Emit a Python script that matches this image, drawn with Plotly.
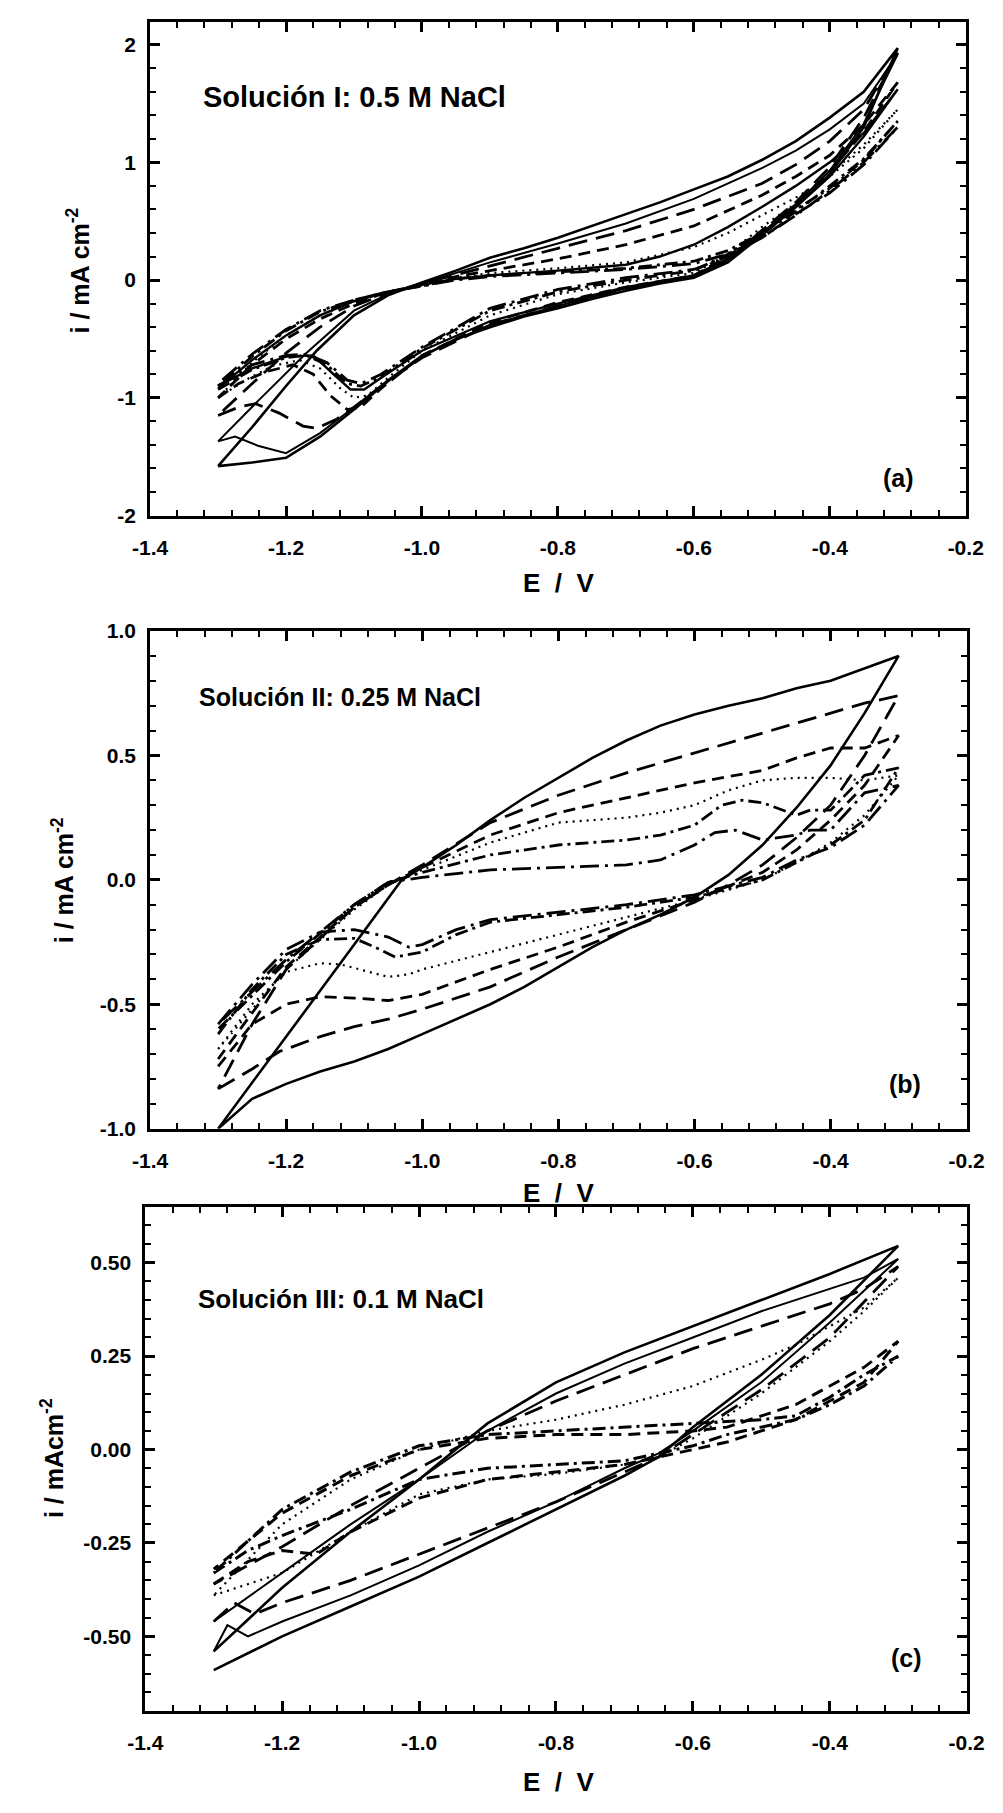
import plotly.graph_objects as go

# ---------------- data: panel (a) 0.5 M NaCl ----------------
a1_E = [-1.3,-1.25,-1.2,-1.15,-1.1,-1.05,-1.0,-0.95,-0.9,-0.85,-0.8,-0.75,-0.7,-0.65,-0.6,-0.55,-0.5,-0.45,-0.4,-0.35,-0.3,
        -0.35,-0.4,-0.45,-0.5,-0.55,-0.6,-0.65,-0.7,-0.75,-0.8,-0.85,-0.9,-0.95,-1.0,-1.05,-1.1,-1.155,-1.2,-1.25,-1.3]
a1_i = [-1.58,-1.55,-1.51,-1.33,-1.1,-0.86,-0.65,-0.5,-0.4,-0.31,-0.24,-0.16,-0.09,-0.03,0.02,0.15,0.38,0.62,0.9,1.3,1.97,
        1.6,1.38,1.18,1.02,0.88,0.77,0.66,0.56,0.46,0.36,0.27,0.19,0.08,-0.02,-0.13,-0.3,-0.6,-0.9,-1.25,-1.58]
a2_E = [-1.3,-1.275,-1.24,-1.2,-1.15,-1.1,-1.05,-1.0,-0.9,-0.8,-0.7,-0.65,-0.6,-0.55,-0.5,-0.45,-0.4,-0.35,-0.3,
        -0.35,-0.4,-0.45,-0.5,-0.6,-0.7,-0.8,-0.9,-0.95,-1.0,-1.05,-1.1,-1.17,-1.24,-1.3]
a2_i = [-1.37,-1.33,-1.41,-1.47,-1.3,-1.08,-0.85,-0.64,-0.38,-0.22,-0.07,-0.02,0.03,0.16,0.4,0.64,0.93,1.33,1.92,
        1.5,1.28,1.1,0.95,0.69,0.48,0.31,0.15,0.06,-0.03,-0.12,-0.26,-0.62,-1.02,-1.37]
a3_E = [-1.3,-1.25,-1.2,-1.16,-1.13,-1.105,-1.085,-1.06,-1.0,-0.9,-0.8,-0.7,-0.6,-0.55,-0.5,-0.45,-0.4,-0.35,-0.3,
        -0.35,-0.4,-0.45,-0.5,-0.55,-0.6,-0.65,-0.7,-0.8,-0.9,-0.95,-1.0,-1.05,-1.1,-1.15,-1.2,-1.25,-1.3]
a3_i = [-0.9,-0.75,-0.65,-0.64,-0.8,-0.93,-0.93,-0.83,-0.6,-0.35,-0.2,-0.06,0.04,0.18,0.4,0.62,0.88,1.22,1.62,
        1.25,1.0,0.8,0.62,0.45,0.3,0.2,0.13,0.08,0.04,0.01,-0.04,-0.1,-0.18,-0.3,-0.47,-0.68,-0.92]
a4_E = [-1.3,-1.27,-1.245,-1.21,-1.175,-1.155,-1.125,-1.1,-1.05,-1.0,-0.9,-0.8,-0.7,-0.6,-0.55,-0.5,-0.45,-0.4,-0.35,-0.3,
        -0.35,-0.4,-0.45,-0.5,-0.6,-0.7,-0.8,-0.9,-0.95,-1.0,-1.05,-1.1,-1.15,-1.2,-1.25,-1.3]
a4_i = [-1.15,-1.08,-1.05,-1.13,-1.24,-1.26,-1.18,-1.08,-0.86,-0.66,-0.38,-0.22,-0.07,0.03,0.17,0.42,0.66,0.96,1.38,1.93,
        1.45,1.18,0.98,0.82,0.6,0.42,0.27,0.12,0.05,-0.03,-0.11,-0.22,-0.4,-0.62,-0.88,-1.15]
a5_E = [-1.3,-1.27,-1.23,-1.19,-1.16,-1.135,-1.11,-1.09,-1.06,-1.0,-0.9,-0.8,-0.7,-0.6,-0.55,-0.5,-0.45,-0.4,-0.35,-0.3,
        -0.35,-0.4,-0.45,-0.5,-0.6,-0.7,-0.8,-0.9,-0.95,-1.0,-1.05,-1.1,-1.15,-1.2,-1.25,-1.3]
a5_i = [-1.0,-0.88,-0.78,-0.72,-0.8,-0.98,-1.1,-1.08,-0.92,-0.64,-0.36,-0.19,-0.06,0.04,0.2,0.42,0.64,0.92,1.26,1.68,
        1.32,1.06,0.88,0.72,0.46,0.3,0.18,0.08,0.03,-0.04,-0.1,-0.2,-0.33,-0.5,-0.72,-1.0]
a6_E = [-1.3,-1.26,-1.22,-1.18,-1.15,-1.12,-1.1,-1.08,-1.05,-1.0,-0.9,-0.8,-0.7,-0.6,-0.55,-0.5,-0.45,-0.4,-0.35,-0.3,
        -0.35,-0.4,-0.45,-0.5,-0.55,-0.6,-0.7,-0.8,-0.9,-0.95,-1.0,-1.05,-1.1,-1.15,-1.2,-1.25,-1.3]
a6_i = [-1.0,-0.85,-0.73,-0.68,-0.75,-0.92,-1.0,-0.98,-0.83,-0.6,-0.3,-0.12,-0.02,0.06,0.22,0.45,0.65,0.9,1.15,1.45,
        1.12,0.88,0.7,0.55,0.4,0.28,0.15,0.1,0.06,0.02,-0.05,-0.1,-0.18,-0.3,-0.47,-0.7,-1.0]
a7_E = [-1.3,-1.25,-1.2,-1.17,-1.14,-1.11,-1.09,-1.06,-1.0,-0.9,-0.8,-0.7,-0.6,-0.55,-0.5,-0.45,-0.4,-0.35,-0.3,
        -0.35,-0.4,-0.45,-0.5,-0.55,-0.6,-0.7,-0.8,-0.9,-0.95,-1.0,-1.05,-1.1,-1.15,-1.2,-1.25,-1.3]
a7_i = [-0.93,-0.76,-0.66,-0.64,-0.72,-0.88,-0.9,-0.82,-0.58,-0.26,-0.1,0.0,0.08,0.22,0.4,0.58,0.8,1.03,1.35,
        1.02,0.78,0.6,0.4,0.25,0.16,0.1,0.07,0.04,0.01,-0.05,-0.1,-0.17,-0.27,-0.43,-0.65,-0.9]
a8_E = [-1.3,-1.25,-1.2,-1.17,-1.14,-1.11,-1.09,-1.06,-1.0,-0.9,-0.8,-0.7,-0.6,-0.55,-0.5,-0.45,-0.4,-0.35,-0.3,
        -0.35,-0.4,-0.45,-0.5,-0.55,-0.6,-0.7,-0.8,-0.9,-0.95,-1.0,-1.05,-1.1,-1.15,-1.2,-1.25,-1.3]
a8_i = [-0.9,-0.72,-0.64,-0.63,-0.7,-0.85,-0.88,-0.8,-0.57,-0.24,-0.08,0.02,0.09,0.2,0.36,0.55,0.76,1.0,1.3,
        0.98,0.74,0.56,0.36,0.22,0.14,0.09,0.06,0.03,0.0,-0.05,-0.1,-0.17,-0.26,-0.42,-0.63,-0.88]

# ---------------- data: panel (b) 0.25 M NaCl ----------------
b1_E = [-1.3,-1.25,-1.2,-1.15,-1.1,-1.05,-1.0,-0.95,-0.9,-0.85,-0.8,-0.75,-0.7,-0.65,-0.6,-0.55,-0.5,-0.45,-0.4,-0.35,-0.3,
        -0.35,-0.4,-0.45,-0.5,-0.55,-0.6,-0.65,-0.7,-0.75,-0.8,-0.85,-0.9,-0.95,-1.0,-1.03,-1.1,-1.2,-1.3]
b1_i = [-1.0,-0.88,-0.82,-0.77,-0.73,-0.68,-0.62,-0.56,-0.5,-0.43,-0.35,-0.27,-0.2,-0.14,-0.07,0.02,0.14,0.29,0.46,0.67,0.9,
        0.85,0.8,0.77,0.73,0.7,0.665,0.62,0.56,0.49,0.41,0.33,0.24,0.14,0.05,0.0,-0.26,-0.63,-1.0]
b2_E = [-1.3,-1.25,-1.21,-1.15,-1.1,-1.05,-1.0,-0.9,-0.8,-0.7,-0.6,-0.55,-0.5,-0.45,-0.4,-0.35,-0.3,
        -0.35,-0.4,-0.5,-0.6,-0.7,-0.8,-0.9,-1.0,-1.05,-1.1,-1.2,-1.25,-1.3]
b2_i = [-0.84,-0.76,-0.69,-0.63,-0.59,-0.56,-0.52,-0.43,-0.31,-0.2,-0.09,-0.02,0.06,0.17,0.3,0.5,0.74,
        0.71,0.67,0.59,0.51,0.43,0.34,0.23,0.06,-0.02,-0.11,-0.36,-0.58,-0.84]
b3_E = [-1.3,-1.25,-1.2,-1.15,-1.1,-1.05,-1.0,-0.95,-0.9,-0.8,-0.7,-0.6,-0.5,-0.45,-0.4,-0.35,-0.3,
        -0.35,-0.4,-0.45,-0.5,-0.6,-0.7,-0.8,-0.9,-1.0,-1.05,-1.1,-1.2,-1.3]
b3_i = [-0.75,-0.58,-0.5,-0.47,-0.475,-0.485,-0.46,-0.41,-0.36,-0.27,-0.17,-0.08,0.03,0.12,0.24,0.38,0.58,
        0.53,0.53,0.49,0.44,0.39,0.33,0.27,0.18,0.05,-0.02,-0.11,-0.35,-0.72]
b4_E = [-1.3,-1.25,-1.2,-1.15,-1.12,-1.08,-1.05,-1.02,-1.0,-0.9,-0.8,-0.7,-0.6,-0.5,-0.45,-0.4,-0.35,-0.3,
        -0.35,-0.4,-0.45,-0.5,-0.55,-0.6,-0.65,-0.7,-0.8,-0.9,-1.0,-1.05,-1.1,-1.2,-1.3]
b4_i = [-0.68,-0.5,-0.37,-0.335,-0.34,-0.37,-0.39,-0.38,-0.36,-0.29,-0.22,-0.15,-0.08,0.0,0.07,0.15,0.26,0.42,
        0.4,0.41,0.41,0.4,0.36,0.3,0.27,0.25,0.23,0.15,0.04,-0.02,-0.12,-0.36,-0.68]
b5_E = [-1.3,-1.25,-1.2,-1.15,-1.1,-1.07,-1.04,-1.0,-0.95,-0.9,-0.8,-0.7,-0.6,-0.5,-0.45,-0.4,-0.35,-0.3,
        -0.35,-0.4,-0.43,-0.45,-0.5,-0.53,-0.56,-0.6,-0.65,-0.7,-0.8,-0.9,-1.0,-1.05,-1.1,-1.2,-1.3]
b5_i = [-0.62,-0.44,-0.3,-0.24,-0.235,-0.27,-0.31,-0.29,-0.22,-0.17,-0.14,-0.11,-0.07,0.0,0.07,0.14,0.24,0.45,
        0.42,0.28,0.28,0.26,0.31,0.32,0.3,0.22,0.18,0.16,0.14,0.1,0.03,-0.01,-0.1,-0.33,-0.6]
b6_E = [-1.3,-1.25,-1.2,-1.15,-1.1,-1.05,-1.02,-1.0,-0.95,-0.9,-0.8,-0.7,-0.6,-0.5,-0.45,-0.4,-0.35,-0.3,
        -0.35,-0.4,-0.43,-0.45,-0.5,-0.54,-0.57,-0.6,-0.65,-0.7,-0.8,-0.9,-1.0,-1.05,-1.1,-1.2,-1.3]
b6_i = [-0.58,-0.42,-0.28,-0.21,-0.2,-0.23,-0.27,-0.26,-0.2,-0.16,-0.13,-0.1,-0.06,0.01,0.08,0.13,0.22,0.38,
        0.35,0.2,0.2,0.18,0.16,0.2,0.19,0.14,0.08,0.06,0.05,0.04,0.01,-0.01,-0.1,-0.32,-0.58]

# ---------------- data: panel (c) 0.1 M NaCl ----------------
c1_E = [-1.3,-1.2,-1.1,-1.0,-0.9,-0.8,-0.7,-0.65,-0.6,-0.5,-0.4,-0.3,
        -0.4,-0.5,-0.6,-0.7,-0.8,-0.9,-1.0,-1.1,-1.2,-1.3]
c1_i = [-0.59,-0.5,-0.42,-0.34,-0.25,-0.16,-0.07,-0.02,0.06,0.2,0.36,0.545,
        0.47,0.4,0.33,0.26,0.18,0.07,-0.08,-0.22,-0.37,-0.54]
c2_E = [-1.3,-1.28,-1.25,-1.2,-1.1,-1.0,-0.9,-0.8,-0.7,-0.65,-0.6,-0.5,-0.4,-0.3,
        -0.35,-0.4,-0.5,-0.6,-0.7,-0.8,-0.9,-1.0,-1.1,-1.2,-1.3]
c2_i = [-0.54,-0.47,-0.5,-0.46,-0.39,-0.31,-0.22,-0.14,-0.05,-0.01,0.05,0.18,0.34,0.51,
        0.46,0.43,0.37,0.3,0.23,0.15,0.05,-0.08,-0.2,-0.33,-0.46]
c3_E = [-1.3,-1.27,-1.24,-1.2,-1.1,-1.0,-0.9,-0.8,-0.7,-0.65,-0.6,-0.5,-0.4,-0.3,
        -0.35,-0.4,-0.5,-0.6,-0.7,-0.8,-0.9,-1.0,-1.1,-1.2,-1.3]
c3_i = [-0.46,-0.41,-0.44,-0.41,-0.35,-0.28,-0.21,-0.14,-0.06,-0.02,0.04,0.16,0.3,0.49,
        0.43,0.39,0.33,0.27,0.2,0.13,0.05,-0.05,-0.15,-0.26,-0.36]
c4_E = [-1.3,-1.25,-1.2,-1.15,-1.1,-1.0,-0.9,-0.8,-0.7,-0.6,-0.55,-0.5,-0.45,-0.4,-0.35,-0.3,
        -0.35,-0.4,-0.45,-0.5,-0.55,-0.6,-0.7,-0.8,-0.9,-1.0,-1.1,-1.2,-1.3]
c4_i = [-0.36,-0.3,-0.27,-0.28,-0.22,-0.13,-0.08,-0.06,-0.04,0.0,0.02,0.05,0.08,0.13,0.18,0.29,
        0.22,0.17,0.12,0.09,0.06,0.05,0.04,0.04,0.03,0.0,-0.07,-0.17,-0.32]
c5_E = [-1.3,-1.2,-1.1,-1.0,-0.9,-0.8,-0.7,-0.65,-0.6,-0.5,-0.4,-0.35,-0.3,
        -0.35,-0.4,-0.45,-0.5,-0.6,-0.7,-0.8,-0.9,-1.0,-1.1,-1.2,-1.3]
c5_i = [-0.39,-0.33,-0.22,-0.12,-0.08,-0.065,-0.04,-0.02,0.03,0.15,0.29,0.37,0.46,
        0.38,0.33,0.28,0.24,0.17,0.12,0.08,0.05,0.0,-0.08,-0.2,-0.39]
c6_E = [-1.3,-1.25,-1.2,-1.1,-1.0,-0.9,-0.8,-0.7,-0.6,-0.55,-0.5,-0.45,-0.4,-0.35,-0.3,
        -0.35,-0.4,-0.45,-0.5,-0.6,-0.7,-0.8,-0.9,-1.0,-1.1,-1.2,-1.3]
c6_i = [-0.33,-0.27,-0.23,-0.16,-0.08,-0.05,-0.04,-0.03,0.01,0.04,0.06,0.08,0.12,0.17,0.25,
        0.2,0.14,0.09,0.08,0.07,0.06,0.05,0.04,0.01,-0.06,-0.16,-0.33]

# tick labels
x_tickvals = [-1.4, -1.2, -1.0, -0.8, -0.6, -0.4, -0.2]
x_ticktext = ["-1.4", "-1.2", "-1.0", "-0.8", "-0.6", "-0.4", "-0.2"]
ya_tickvals = [-2, -1, 0, 1, 2]
ya_ticktext = ["-2", "-1", "0", "1", "2"]
yb_tickvals = [-1.0, -0.5, 0.0, 0.5, 1.0]
yb_ticktext = ["-1.0", "-0.5", "0.0", "0.5", "1.0"]
yc_tickvals = [-0.5, -0.25, 0.0, 0.25, 0.5]
yc_ticktext = ["-0.50", "-0.25", "0.00", "0.25", "0.50"]

# ---------------- styles ----------------
SOLID = "solid"
LDASH = "19px,9px"
DASH = "12px,7px"
DOT = "2px,5px"
DASHDOT = "13px,5px,3px,5px"
LDASHDOT = "19px,6px,3px,6px"

W, H = 1003, 1813
FONT = "Liberation Sans, Arial, sans-serif"

fig = go.Figure()

def add(E, I, dash, width, xa, ya):
    fig.add_trace(go.Scatter(x=E, y=I, mode="lines", xaxis=xa, yaxis=ya,
                             line=dict(color="black", width=width, dash=dash),
                             showlegend=False, hoverinfo="skip"))

for E, I, d, w in [(a1_E, a1_i, SOLID, 2.6), (a2_E, a2_i, SOLID, 2.0), (a3_E, a3_i, SOLID, 2.4),
                   (a4_E, a4_i, LDASH, 2.8), (a5_E, a5_i, DASH, 2.8), (a6_E, a6_i, DOT, 2.2),
                   (a7_E, a7_i, DASHDOT, 2.8), (a8_E, a8_i, LDASHDOT, 2.8)]:
    add(E, I, d, w, "x", "y")
for E, I, d, w in [(b1_E, b1_i, SOLID, 2.6), (b2_E, b2_i, LDASH, 2.8), (b3_E, b3_i, DASH, 2.8),
                   (b4_E, b4_i, DOT, 2.2), (b5_E, b5_i, DASHDOT, 2.8), (b6_E, b6_i, LDASHDOT, 2.8)]:
    add(E, I, d, w, "x2", "y2")
for E, I, d, w in [(c1_E, c1_i, SOLID, 2.6), (c2_E, c2_i, SOLID, 2.0), (c3_E, c3_i, LDASH, 2.8),
                   (c4_E, c4_i, DASH, 3.0), (c5_E, c5_i, DOT, 2.2), (c6_E, c6_i, DASHDOT, 3.0)]:
    add(E, I, d, w, "x3", "y3")

def px_x(px):
    return px / W

def px_y(py):
    return 1 - py / H

TICKFONT = dict(family=FONT, size=21, color="black", weight="bold")

def xaxis(dom, anchor):
    return dict(domain=dom, anchor=anchor, range=[-1.4, -0.2], tickmode="array",
                tickvals=x_tickvals, ticktext=x_ticktext,
                showline=True, linewidth=2.8, linecolor="black", mirror="allticks",
                ticks="inside", ticklen=10, tickwidth=2.6, tickcolor="black",
                showgrid=False, zeroline=False, ticklabelstandoff=11,
                tickfont=TICKFONT,
                minor=dict(tickmode="linear", tick0=-1.4, dtick=0.04, ticks="inside",
                           ticklen=6, tickwidth=2.2, tickcolor="black", showgrid=False))

def yaxis(dom, anchor, rng, tv, tt, mdt):
    return dict(domain=dom, anchor=anchor, range=rng, tickmode="array",
                tickvals=tv, ticktext=tt,
                showline=True, linewidth=2.8, linecolor="black", mirror="allticks",
                ticks="inside", ticklen=10, tickwidth=2.6, tickcolor="black",
                showgrid=False, zeroline=False, ticklabelstandoff=7,
                tickfont=TICKFONT,
                minor=dict(tickmode="linear", tick0=0, dtick=mdt, ticks="inside",
                           ticklen=6, tickwidth=2.2, tickcolor="black", showgrid=False))

fig.update_layout(
    width=W, height=H, margin=dict(l=0, r=0, t=0, b=0),
    paper_bgcolor="white", plot_bgcolor="white", showlegend=False,
    font=dict(family=FONT, color="black"),
    xaxis=xaxis([px_x(137), px_x(983)], "y"),
    yaxis=yaxis([px_y(510), px_y(10)], "x", [-2, 2.193], ya_tickvals, ya_ticktext, 0.2),
    xaxis2=xaxis([px_x(137), px_x(984)], "y2"),
    yaxis2=yaxis([px_y(1131), px_y(627)], "x2", [-1.0, 1.0], yb_tickvals, yb_ticktext, 0.1),
    xaxis3=xaxis([px_x(132), px_x(984)], "y3"),
    yaxis3=yaxis([px_y(1721), px_y(1210)], "x3", [-0.70, 0.65], yc_tickvals, yc_ticktext, 0.05),
)

def note(text, x, y, size, xanchor="center", angle=0, bold=True):
    fig.add_annotation(text=text, xref="paper", yref="paper", x=px_x(x), y=px_y(y),
                       xanchor=xanchor, yanchor="middle", showarrow=False, textangle=angle,
                       font=dict(family=FONT, size=size, color="black",
                                 weight="bold" if bold else "normal"))

NB = "\u00a0"
# axis titles
note("i / mA cm<sup>-2</sup>", 62, 262, 25, angle=-90)
note("i / mA cm<sup>-2</sup>", 46, 879, 25, angle=-90)
note("i / mAcm<sup>-2</sup>", 36, 1465, 25, angle=-90)
ev = "E" + NB + NB + "/" + NB + NB + "V"
note(ev, 561, 578, 26)
note(ev, 561, 1196, 26)
note(ev, 561, 1793, 26)

# in-plot labels
note("Solución I: 0.5 M NaCl", 190, 86, 29, xanchor="left")
note("Solución II: 0.25 M NaCl", 186, 694, 25, xanchor="left")
note("Solución III: 0.1 M NaCl", 185, 1304, 26, xanchor="left")
note("(a)", 913, 472, 25)
note("(b)", 920, 1086, 25)
note("(c)", 922, 1667, 25)

fig.write_html("out.html")
